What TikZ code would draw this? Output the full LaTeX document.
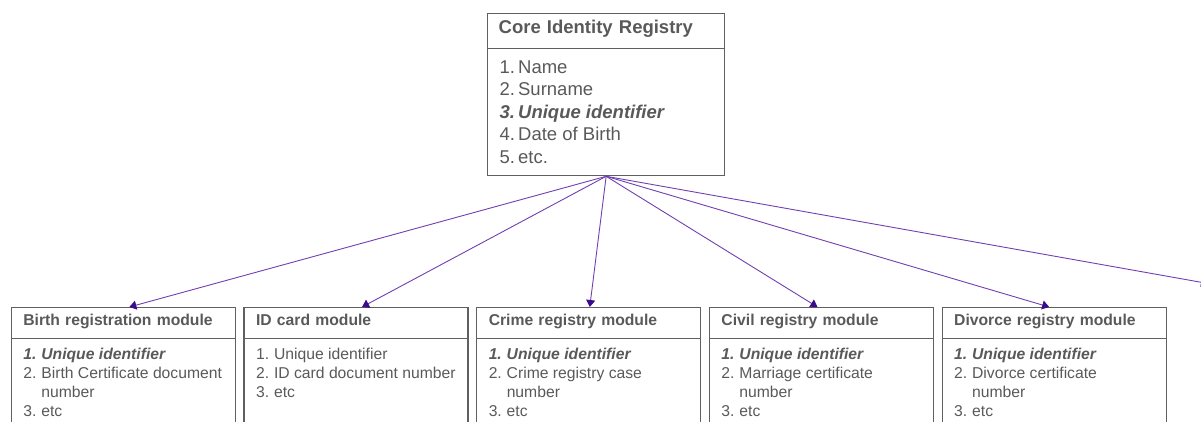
\documentclass[tikz,border=0pt]{standalone}
\usepackage{fontspec}
\setmainfont{Liberation Sans}
\usetikzlibrary{arrows.meta,calc}
\definecolor{txt}{HTML}{595959}
\definecolor{bord}{HTML}{606060}
\definecolor{arr}{HTML}{7040B0}
\definecolor{tipc}{HTML}{3A0C8C}
\newcommand{\litem}[3]{\par\hangindent=#1\hangafter=1\noindent\makebox[#1][l]{#2}#3}
\newcommand{\bi}[1]{\textbf{\textit{#1}}}
\tikzset{
  boxframe/.style={draw=bord, line width=1.3pt, rectangle, anchor=north west, text=txt},
  coretitle/.style={boxframe, font=\fontsize{18.5}{22.5}\selectfont\bfseries, text width=215pt, align=left,
     inner xsep=11pt, inner ysep=0pt, minimum height=35pt, text height=0.74em, text depth=0.22em},
  modtitle/.style={boxframe, font=\fontsize{15.7}{19.1}\selectfont\bfseries, text width=200pt, align=left,
     inner xsep=12pt, inner ysep=0pt, minimum height=31pt, text height=0.74em, text depth=0.22em},
  modbody/.style={boxframe, inner xsep=12pt, inner ysep=0pt},
  link/.style={draw=arr, line width=0.9pt, -{Triangle[width=9pt,length=7pt,fill=tipc,color=tipc]}}
}
\newcommand{\modlist}[3]{\parbox[c][100pt][t]{200pt}{\fontsize{15.7}{19.1}\selectfont\raggedright\vspace*{9.6pt}%
  \litem{18pt}{#1}{#2}#3}}
\begin{document}
\begin{tikzpicture}[x=1pt,y=-1pt]
\useasboundingbox (0,0) rectangle (1201,421);
\clip (0,0) rectangle (1201,421);
% core
\node[coretitle] (coret) at (487,13) {Core Identity Registry};
\node[boxframe, inner xsep=12pt, inner ysep=0pt] (coreb) at (487,48)
 {\parbox[c][127pt][t]{213pt}{\fontsize{18.5}{22.5}\selectfont\raggedright\vspace*{12pt}%
  \litem{18.5pt}{1.}{Name}
  \litem{18.5pt}{2.}{Surname}
  \litem{18.5pt}{\bi{3.}}{\bi{Unique identifier}}
  \litem{18.5pt}{4.}{Date of Birth}
  \litem{18.5pt}{5.}{etc.}}};
% modules
\node[modtitle] (t1) at (10.7,307) {Birth registration module};
\node[modbody] (b1) at (10.7,338) {\modlist{\bi{1.}}{\bi{Unique identifier}}{\litem{18pt}{2.}{Birth Certificate document\newline number}\litem{18pt}{3.}{etc}}};
\node[modtitle] (t2) at (243.4,307) {ID card module};
\node[modbody] (b2) at (243.4,338) {\modlist{1.}{Unique identifier}{\litem{18pt}{2.}{ID card document number}\litem{18pt}{3.}{etc}}};
\node[modtitle] (t3) at (476.1,307) {Crime registry module};
\node[modbody] (b3) at (476.1,338) {\modlist{\bi{1.}}{\bi{Unique identifier}}{\litem{18pt}{2.}{Crime registry case\newline number}\litem{18pt}{3.}{etc}}};
\node[modtitle] (t4) at (708.8,307) {Civil registry module};
\node[modbody] (b4) at (708.8,338) {\modlist{\bi{1.}}{\bi{Unique identifier}}{\litem{18pt}{2.}{Marriage certificate\newline number}\litem{18pt}{3.}{etc}}};
\node[modtitle] (t5) at (941.5,307) {Divorce registry module};
\node[modbody] (b5) at (941.5,338) {\modlist{\bi{1.}}{\bi{Unique identifier}}{\litem{18pt}{2.}{Divorce certificate\newline number}\litem{18pt}{3.}{etc}}};
\coordinate (off) at (1208,283.5);
% connectors
\coordinate (src) at (coreb.south);
\draw[link] (src) -- ([xshift=6pt]t1.north);
\draw[link] (src) -- ([xshift=6pt]t2.north);
\draw[link] (src) -- ([xshift=1pt]t3.north);
\draw[link] (src) -- ([xshift=-4pt]t4.north);
\draw[link] (src) -- ([xshift=-5pt]t5.north);
\draw[link] (src) -- (off);
\end{tikzpicture}
\end{document}
